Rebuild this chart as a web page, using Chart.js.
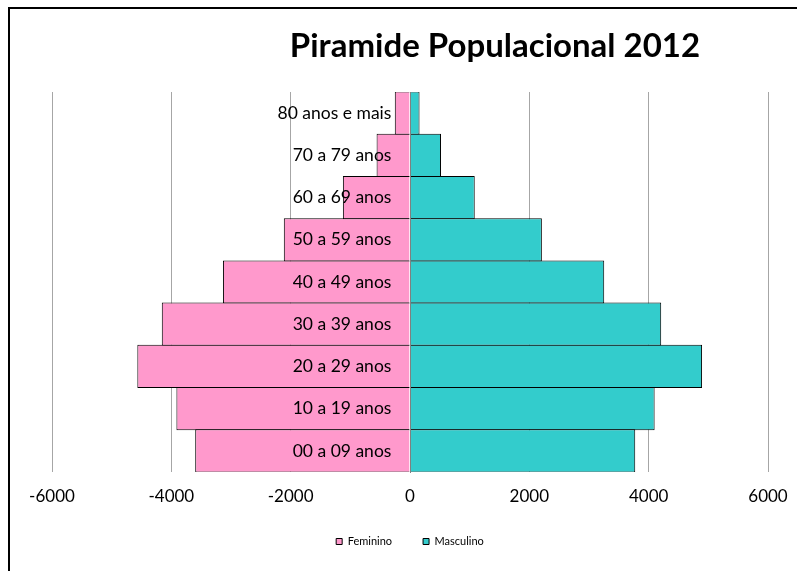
<!DOCTYPE html>
<html lang="pt">
<head>
<meta charset="UTF-8">
<title>Piramide Populacional 2012</title>
<script src="https://cdn.jsdelivr.net/npm/chart.js"></script>
<style>
    html, body { margin: 0; padding: 0; background: #fff; }
    #wrap { width: 797px; height: 571px; position: relative; }
</style>
</head>
<body>
<div id="wrap"><canvas id="piramide" width="797" height="571"></canvas></div>
<script>
// faixas etarias, de cima para baixo
const faixas = ['80 anos e mais', '70 a 79 anos', '60 a 69 anos', '50 a 59 anos', '40 a 49 anos',
                '30 a 39 anos', '20 a 29 anos', '10 a 19 anos', '00 a 09 anos'];
const feminino = [255, 560, 1125, 2115, 3135, 4160, 4570, 3915, 3600];
const masculino = [160, 520, 1085, 2210, 3255, 4210, 4895, 4100, 3775];
const eixoMin = -6000;
const eixoMax = 6000;
const eixoPasso = 2000;

const fonte = 'Lato, "Open Sans", sans-serif';

// moldura (so borda de cima e da esquerda aparecem) e titulo
const moldura = {
    id: 'moldura',
    beforeDraw(chart) {
        const ctx = chart.ctx;
        ctx.save();
        ctx.fillStyle = '#fff';
        ctx.fillRect(0, 0, chart.width, chart.height);
        ctx.fillStyle = '#000';
        ctx.fillRect(8, 7, 2, chart.height);
        ctx.fillRect(8, 7, chart.width, 2);
        ctx.restore();
    },
    afterDraw(chart) {
        const ctx = chart.ctx;
        ctx.save();
        ctx.fillStyle = '#000';
        ctx.font = 'bold 33px ' + fonte;
        ctx.textAlign = 'center';
        ctx.textBaseline = 'alphabetic';
        ctx.fillText('Piramide Populacional 2012', 495, 57);
        ctx.restore();
    }
};

const barra = {
    borderColor: '#000',
    borderWidth: 1,
    borderSkipped: 'start',
    categoryPercentage: 1,
    barPercentage: 1.024
};

new Chart(document.getElementById('piramide'), {
    type: 'bar',
    data: {
        labels: faixas,
        datasets: [
            Object.assign({ label: 'Feminino', data: feminino.map(v => -v), backgroundColor: '#FF99CC' }, barra),
            Object.assign({ label: 'Masculino', data: masculino, backgroundColor: '#33CCCC' }, barra)
        ]
    },
    options: {
        indexAxis: 'y',
        responsive: false,
        animation: false,
        layout: { padding: { left: 52, right: 29, top: 92, bottom: 14 } },
        scales: {
            x: {
                stacked: true,
                min: eixoMin,
                max: eixoMax,
                ticks: {
                    stepSize: eixoPasso,
                    callback: v => String(v),
                    color: '#000',
                    font: { family: fonte, size: 17, lineHeight: 1 },
                    padding: 0
                },
                grid: { color: '#a6a6a6', drawTicks: true, tickLength: 16, tickColor: 'rgba(0,0,0,0)' },
                border: { display: false }
            },
            // eixo das faixas: so a linha do zero, por cima das barras
            y: {
                stacked: true,
                position: { x: 0 },
                ticks: { display: false },
                grid: { display: false },
                border: { display: true, color: '#808080', width: 1, z: 1 }
            },
            // rotulos das faixas, um pouco a esquerda do zero
            rotulos: {
                axis: 'y',
                type: 'category',
                offset: true,
                position: { x: -312 },
                ticks: {
                    autoSkip: false,
                    color: '#000',
                    font: { family: fonte, size: 17.5 },
                    z: 2
                },
                grid: { display: false },
                border: { display: false }
            }
        },
        plugins: {
            legend: {
                position: 'bottom',
                labels: {
                    boxWidth: 6,
                    boxHeight: 6,
                    padding: 31,
                    color: '#000',
                    font: { family: fonte, size: 11 }
                }
            },
            tooltip: { enabled: false }
        }
    },
    plugins: [moldura]
});
</script>
</body>
</html>
